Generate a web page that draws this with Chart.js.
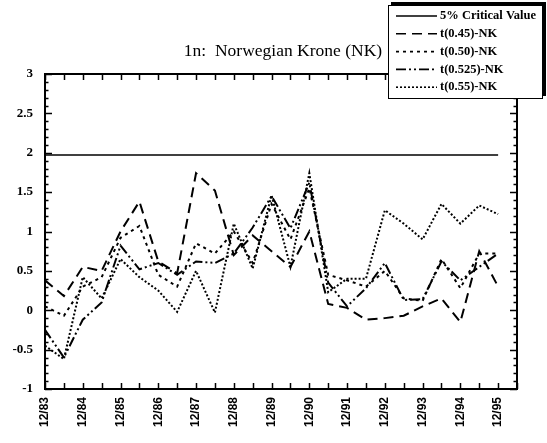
<!DOCTYPE html>
<html>
<head>
<meta charset="utf-8">
<script src="https://cdn.jsdelivr.net/npm/chart.js@4.4.1/dist/chart.umd.min.js"></script>
<style>
  html, body { margin: 0; padding: 0; background: #fff; }
  canvas { display: block; }
</style>
</head>
<body>
<canvas id="c" width="547" height="443"></canvas>
<script>
// Datos (semestrales, 12/83 .. 12/95)
const periods = ['12/83','6/84','12/84','6/85','12/85','6/86','12/86','6/87','12/87','6/88','12/88','6/89','12/89',
                 '6/90','12/90','6/91','12/91','6/92','12/92','6/93','12/93','6/94','12/94','6/95','12/95'];
const CRIT = 1.97;
const t045  = [0.38,0.18,0.55,0.5,1.0,1.38,0.62,0.47,1.74,1.52,0.7,0.95,0.75,0.55,1.0,0.08,0.03,-0.12,-0.1,-0.07,0.05,0.15,-0.15,0.75,0.3];
const t050  = [0.05,-0.07,0.3,0.42,0.92,1.07,0.45,0.3,0.85,0.72,1.0,0.6,1.35,0.9,1.55,0.45,0.38,0.3,0.5,0.15,0.12,0.65,0.28,0.72,0.72];
const t0525 = [-0.25,-0.6,-0.12,0.1,0.82,0.52,0.6,0.45,0.62,0.6,0.72,1.05,1.45,1.04,1.62,0.35,0.05,0.28,0.6,0.13,0.14,0.62,0.38,0.55,0.72];
const t055  = [-0.45,-0.62,0.42,0.15,0.65,0.42,0.25,-0.02,0.5,-0.03,1.1,0.53,1.46,0.55,1.74,0.23,0.4,0.4,1.27,1.1,0.9,1.35,1.1,1.33,1.22];
const yMin = -1, yMax = 3, yStep = 0.5;
const title = '1n:  Norwegian Krone (NK)';

const pts = arr => arr.map((v, i) => ({ x: i, y: v }));

function ds(label, arr, dash, width) {
  return { label, data: pts(arr), borderColor: '#000', borderWidth: width, borderDash: dash,
           pointRadius: 0, fill: false, tension: 0 };
}

// Marco, marcas hacia adentro, título y leyenda
const decor = {
  id: 'decor',
  afterDraw(chart) {
    const { ctx, chartArea: a, scales: { x, y } } = chart;
    ctx.save();
    ctx.strokeStyle = '#000';
    ctx.setLineDash([]);
    ctx.lineWidth = 2;
    ctx.strokeRect(a.left, a.top, a.width, a.height);

    ctx.lineWidth = 1.5;
    ctx.beginPath();
    for (let i = yMin * 10; i <= yMax * 10; i++) {
      const py = Math.round(y.getPixelForValue(i / 10)) + 0.5;
      const len = (i % 5 === 0) ? 7 : 3.5;
      ctx.moveTo(a.left, py);  ctx.lineTo(a.left + len, py);
      ctx.moveTo(a.right, py); ctx.lineTo(a.right - len, py);
    }
    for (let k = 0; k <= periods.length; k++) {
      const px = Math.round(x.getPixelForValue(k)) + 0.5;
      ctx.moveTo(px, a.bottom); ctx.lineTo(px, a.bottom - 6);
      ctx.moveTo(px, a.top);    ctx.lineTo(px, a.top + 6);
    }
    ctx.stroke();

    // título
    ctx.fillStyle = '#000';
    ctx.font = '17.5px "Liberation Serif"';
    ctx.textAlign = 'center';
    ctx.textBaseline = 'middle';
    ctx.fillText(title, 283, 51);

    // leyenda con sombra
    const bx = 388, by = 5, bw = 155, bh = 94;
    ctx.fillStyle = '#000';
    ctx.fillRect(bx + 3, by - 3, bw, bh);
    ctx.fillStyle = '#fff';
    ctx.fillRect(bx, by, bw, bh);
    ctx.lineWidth = 1;
    ctx.strokeRect(bx + 0.5, by + 0.5, bw - 1, bh - 1);

    ctx.font = 'bold 12.5px "Liberation Serif"';
    ctx.textAlign = 'left';
    chart.data.datasets.forEach((d, i) => {
      const ry = 16 + i * 17.8;
      ctx.setLineDash(d.borderDash || []);
      ctx.lineWidth = Math.min(d.borderWidth, 1.6);
      ctx.beginPath();
      ctx.moveTo(396, ry); ctx.lineTo(437, ry);
      ctx.stroke();
      ctx.setLineDash([]);
      ctx.fillStyle = '#000';
      ctx.fillText(d.label, 440, ry);
    });
    ctx.restore();
  }
};

new Chart(document.getElementById('c'), {
  type: 'line',
  data: {
    datasets: [
      ds('5% Critical Value', periods.map(() => CRIT), [], 1.5),
      ds('t(0.45)-NK', t045, [10, 6], 2),
      ds('t(0.50)-NK', t050, [3, 4], 2),
      ds('t(0.525)-NK', t0525, [10, 3, 2, 3, 2, 3], 2),
      ds('t(0.55)-NK', t055, [2, 2], 2)
    ]
  },
  options: {
    responsive: false,
    animation: false,
    devicePixelRatio: 1,
    layout: { padding: { top: 74, right: 30, left: 0, bottom: 0 } },
    plugins: { legend: { display: false }, tooltip: { enabled: false }, title: { display: false } },
    scales: {
      x: {
        type: 'linear', min: 0, max: periods.length,
        grid: { display: false, drawTicks: false },
        border: { display: false },
        afterFit: s => { s.height = 54; },
        ticks: {
          stepSize: 1, autoSkip: false, minRotation: 90, maxRotation: 90, padding: 8,
          color: '#000', font: { family: 'Liberation Sans', size: 12, weight: 'bold' },
          callback: v => (periods[v] && periods[v].startsWith('12/')) ? periods[v] : ''
        }
      },
      y: {
        min: yMin, max: yMax,
        grid: { display: false, drawTicks: false },
        border: { display: false },
        afterFit: s => { s.width = 45; },
        ticks: {
          stepSize: yStep, padding: 12, color: '#000',
          font: { family: 'Liberation Serif', size: 13, weight: 'bold' },
          callback: v => String(Math.round(v * 10) / 10)
        }
      }
    }
  },
  plugins: [decor]
});
</script>
</body>
</html>
